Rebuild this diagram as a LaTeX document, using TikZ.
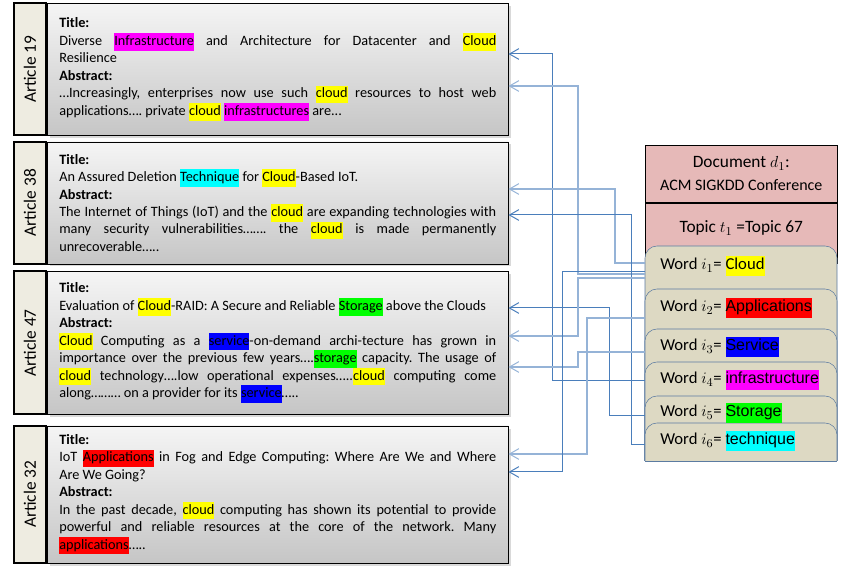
\documentclass[tikz,border=0pt]{standalone}
\usepackage{fontspec}
\setmainfont{Carlito}
\newfontfamily\arialfont{Liberation Sans}
\usetikzlibrary{positioning,shadows,arrows.meta}

\definecolor{labelfill}{HTML}{EEECE1}
\definecolor{docpink}{HTML}{E6B9B8}
\definecolor{wordtan}{HTML}{DDD9C3}
\definecolor{wordedge}{HTML}{5B7BA1}
\definecolor{linkdark}{HTML}{4A7EBB}
\definecolor{linklight}{HTML}{95B3D7}
\definecolor{hlyellow}{HTML}{FFFF00}
\definecolor{hlmagenta}{HTML}{FF00FF}
\definecolor{hlcyan}{HTML}{00FFFF}
\definecolor{hlgreen}{HTML}{00FF00}
\definecolor{hlblue}{HTML}{0000FF}
\definecolor{hlred}{HTML}{FF0000}

\newcommand{\hlw}[2][hlyellow]{{\setlength{\fboxsep}{0pt}\colorbox{#1}{\strut #2}}}
\frenchspacing

\begin{document}
\begin{tikzpicture}[
  x=0.75pt, y=-0.75pt,
  every node/.style={font=\fontsize{10.7}{13.1}\selectfont},
  article/.style={draw, top color=gray!8, bottom color=gray!45,
    drop shadow={shadow xshift=2pt, shadow yshift=-2pt, opacity=0.3},
    text width=327.75pt, inner xsep=9pt, align=justify},
  artlabel/.style={draw, line width=1.5pt, fill=labelfill, rotate=90, anchor=south,
    minimum height=24pt, font=\fontsize{13}{15}\selectfont},
  docbox/.style={draw, fill=docpink, minimum width=144pt, inner xsep=0pt},
  wordband/.style={fill=wordtan, draw=wordedge, rounded corners=9pt},
  wordtxt/.style={anchor=west, inner xsep=11.25pt, font=\fontsize{12.5}{14.4}\selectfont},
  link/.style={draw=linkdark, line width=0.75pt, -{Straight Barb[length=7pt,width=8pt,line width=0.75pt]}},
  linklt/.style={link, draw=linklight, line width=1.3pt}
]
\useasboundingbox (0,0) rectangle (850,584);

% Articles
\node[article, minimum height=99pt, anchor=north west] (a19) at (47,3) {\textbf{Title:}\\
Diverse \hlw[hlmagenta]{Infrastructure} and Architecture for Datacenter and \hlw{Cloud}\linebreak Resilience\\
\textbf{Abstract:}\\
…Increasingly, enterprises now use such \hlw{cloud} resources to host web\linebreak applications…. private \hlw{cloud} \hlw[hlmagenta]{infrastructures} are...};
\node[article, minimum height=91.5pt, below=4.5pt of a19] (a38) {\textbf{Title:}\\
An Assured Deletion \hlw[hlcyan]{Technique} for \hlw{Cloud}-Based IoT.\\
\textbf{Abstract:}\\
The Internet of Things (IoT) and the \hlw{cloud} are expanding technologies with\linebreak many security vulnerabilities……. the \hlw{cloud} is made permanently\linebreak unrecoverable…..};
\node[article, minimum height=107.25pt, below=5.25pt of a38] (a47) {\textbf{Title:}\\
Evaluation of \hlw{Cloud}-RAID: A Secure and Reliable \hlw[hlgreen]{Storage} above the Clouds\\
\textbf{Abstract:}\\
\hlw{Cloud} Computing as a \hlw[hlblue]{service}-on-demand archi-tecture has grown in\linebreak importance over the previous few years….\hlw[hlgreen]{storage} capacity. The usage of\linebreak \hlw{cloud} technology….low operational expenses…..\hlw{cloud} computing come\linebreak along……… on a provider for its \hlw[hlblue]{service}…..};
\node[article, minimum height=102.75pt, below=8.25pt of a47] (a32) {\textbf{Title:}\\
IoT \hlw[hlred]{Applications} in Fog and Edge Computing: Where Are We and Where\linebreak Are We Going?\\
\textbf{Abstract:}\\
In the past decade, \hlw{cloud} computing has shown its potential to provide\linebreak powerful and reliable resources at the core of the network. Many\linebreak \hlw[hlred]{applications}…..};

% Side labels
\node[artlabel, minimum width=99pt] (l19) at (a19.west) {Article 19};
\node[artlabel, minimum width=91.5pt] (l38) at (a38.west) {Article 38};
\node[artlabel, minimum width=107.25pt] (l47) at (a47.west) {Article 47};
\node[artlabel, minimum width=102.75pt] (l32) at (a32.west) {Article 32};

% Document and topic
\node[docbox, anchor=north west, minimum height=42.75pt, align=center,
  font=\fontsize{12}{17}\selectfont] (doc) at (645,145)
  {{\fontsize{13}{17}\selectfont Document $d_1$:}\\ACM SIGKDD Conference};
\node[docbox, below=0pt of doc, text height=22.5pt, text depth=22.5pt, inner ysep=0pt,
  font=\fontsize{13}{15}\selectfont] (topic) {Topic $t_1$ =Topic 67};

% Words
\foreach \t in {246,289,329,362,396,423}
  \filldraw[wordband] (645,461) -- (645,\t) -- (837,\t) -- (837,461);
\draw[wordedge] (645,461) -- (837,461);

\node[wordtxt] (w1) at (645,266) {Word $i_1$= \hlw{Cloud}};
\node[wordtxt] (w2) at (645,308) {Word $i_2$= \hlw[hlred]{\arialfont\fontsize{12}{14.4}\selectfont Applications}};
\node[wordtxt] (w3) at (645,347) {Word $i_3$= \hlw[hlblue]{\arialfont\fontsize{12}{14.4}\selectfont Service}};
\node[wordtxt] (w4) at (645,380) {Word $i_4$= \hlw[hlmagenta]{\arialfont\fontsize{12}{14.4}\selectfont infrastructure}};
\node[wordtxt] (w5) at (645,413) {Word $i_5$= \hlw[hlgreen]{\arialfont\fontsize{12}{14.4}\selectfont Storage}};
\node[wordtxt] (w6) at (645,441) {Word $i_6$= \hlw[hlcyan]{\arialfont\fontsize{12}{14.4}\selectfont technique}};

% Arrows
\draw[link] (w4.west |- 0,381) -| (552,54) -- (a19.east |- 0,54);
\draw[linklt] (w1.west |- 0,274) -| (578,86) -- (a19.east |- 0,86);
\draw[linklt] (w1.west |- 0,263) -| (615,189) -- (a38.east |- 0,189);
\draw[link] (w6.west |- 0,445) -| (631,215) -- (a38.east |- 0,215);
\draw[link] (w5.west |- 0,416) -| (609,308) -- (a47.east |- 0,308);
\draw[linklt] (w1.west |- 0,278) -| (578,336) -- (a47.east |- 0,336);
\draw[linklt] (w3.west |- 0,352) -| (578,367) -- (a47.east |- 0,367);
\draw[linklt] (w2.west |- 0,318) -| (587,454) -- (a32.east |- 0,454);
\draw[link] (w1.west |- 0,272) -| (562,472) -- (a32.east |- 0,472);
\end{tikzpicture}
\end{document}
